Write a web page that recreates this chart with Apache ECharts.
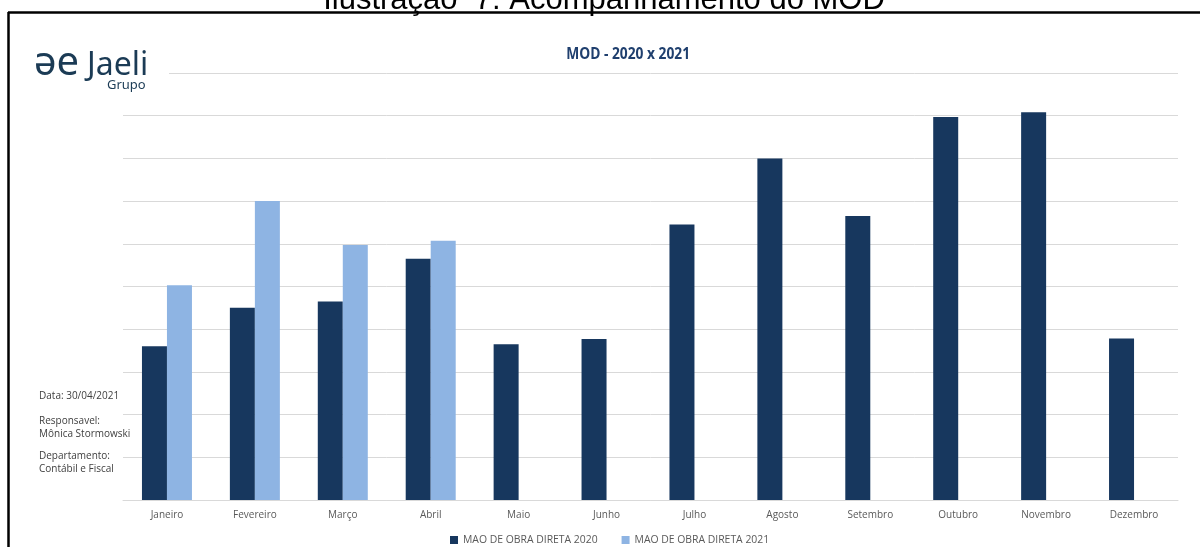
<!DOCTYPE html>
<html>
<head>
<meta charset="utf-8">
<script src="https://cdn.jsdelivr.net/npm/echarts@6/dist/echarts.min.js"></script>
<style>
  html, body { margin: 0; padding: 0; background: #fff; }
  #main { width: 1200px; height: 547px; }
</style>
</head>
<body>
<div id="main"></div>
<script>
// dados do grafico
var meses = ['Janeiro', 'Fevereiro', 'Março', 'Abril', 'Maio', 'Junho', 'Julho', 'Agosto', 'Setembro', 'Outubro', 'Novembro', 'Dezembro'];
var mod2020 = [3.6, 4.5, 4.65, 5.65, 3.65, 3.77, 6.45, 8.0, 6.65, 8.97, 9.08, 3.78];
var mod2021 = [5.03, 7.0, 5.97, 6.07, null, null, null, null, null, null, null, null];
var nomes = ['MAO DE OBRA DIRETA 2020', 'MAO DE OBRA DIRETA 2021'];
var cores = ['#17375e', '#8eb4e3'];

var fonte = "'Open Sans', 'Noto Sans', sans-serif";
var myChart = echarts.init(document.getElementById('main'));

var option = {
    backgroundColor: '#fff',
    animation: false,
    grid: { left: 123, right: 22, top: 73, bottom: 47 },
    legend: {
        data: nomes,
        left: 445,
        top: 530,
        itemWidth: 8,
        itemHeight: 8,
        itemGap: 24,
        icon: 'rect',
        textStyle: { fontFamily: fonte, fontSize: 10.4, color: '#595959' }
    },
    xAxis: {
        type: 'category',
        data: meses,
        axisLine: { lineStyle: { color: '#d9d9d9' } },
        axisTick: { show: false },
        axisLabel: { fontFamily: fonte, fontSize: 10, color: '#595959', margin: 10 }
    },
    yAxis: {
        type: 'value',
        min: 0,
        max: 10,
        interval: 1,
        axisLabel: { show: false },
        axisLine: { show: false },
        axisTick: { show: false },
        splitLine: { lineStyle: { color: '#d9d9d9' } }
    },
    series: [
        { name: nomes[0], type: 'bar', data: mod2020, barWidth: 25, barGap: '0%', itemStyle: { color: cores[0] } },
        { name: nomes[1], type: 'bar', data: mod2021, barWidth: 25, barGap: '0%', itemStyle: { color: cores[1] } }
    ],
    graphic: [
        // legenda da figura (cortada no topo)
        { type: 'text', x: 604, y: 16, style: { text: 'Ilustração  7: Acompanhamento do MOD', font: "31px 'Liberation Sans', Arial, sans-serif", fill: '#000', align: 'center', verticalAlign: 'bottom' } },
        // moldura
        { type: 'line', shape: { x1: 8, y1: 12.5, x2: 1200, y2: 12.5 }, style: { stroke: '#000', lineWidth: 2.5 } },
        { type: 'line', shape: { x1: 8.5, y1: 12, x2: 8.5, y2: 547 }, style: { stroke: '#000', lineWidth: 2.5 } },
        // titulo
        { type: 'text', x: 551, y: 54, scaleX: 0.86, originX: 551, style: { text: 'MOD - 2020 x 2021', font: "bold 16px 'Open Sans', sans-serif", fill: '#1f3f6e', align: 'center', verticalAlign: 'middle' } },
        // logo
        { type: 'rect', shape: { x: 15, y: 24, width: 154, height: 80 }, style: { fill: '#fff' }, z: 10 },
        { type: 'text', x: 34, y: 44, z: 11, style: { text: 'əe', font: "40px 'Noto Sans', sans-serif", fill: '#1b3b55' } },
        { type: 'text', x: 87, y: 50, z: 11, style: { text: 'Jaeli', font: "32px 'Noto Sans', sans-serif", fill: '#1b3b55' } },
        { type: 'text', x: 107, y: 79, z: 11, style: { text: 'Grupo', font: "13px 'Noto Sans', sans-serif", fill: '#1b3b55' } },
        // informacoes
        { type: 'text', x: 39, y: 391, style: { text: 'Data: 30/04/2021', font: "10px " + fonte, fill: '#404040' } },
        { type: 'text', x: 39, y: 415, style: { text: 'Responsavel:\nMônica Stormowski', font: "10px " + fonte, fill: '#404040', lineHeight: 13 } },
        { type: 'text', x: 39, y: 450, style: { text: 'Departamento:\nContábil e Fiscal', font: "10px " + fonte, fill: '#404040', lineHeight: 13 } }
    ]
};

myChart.setOption(option);
window.onresize = myChart.resize;
</script>
</body>
</html>
